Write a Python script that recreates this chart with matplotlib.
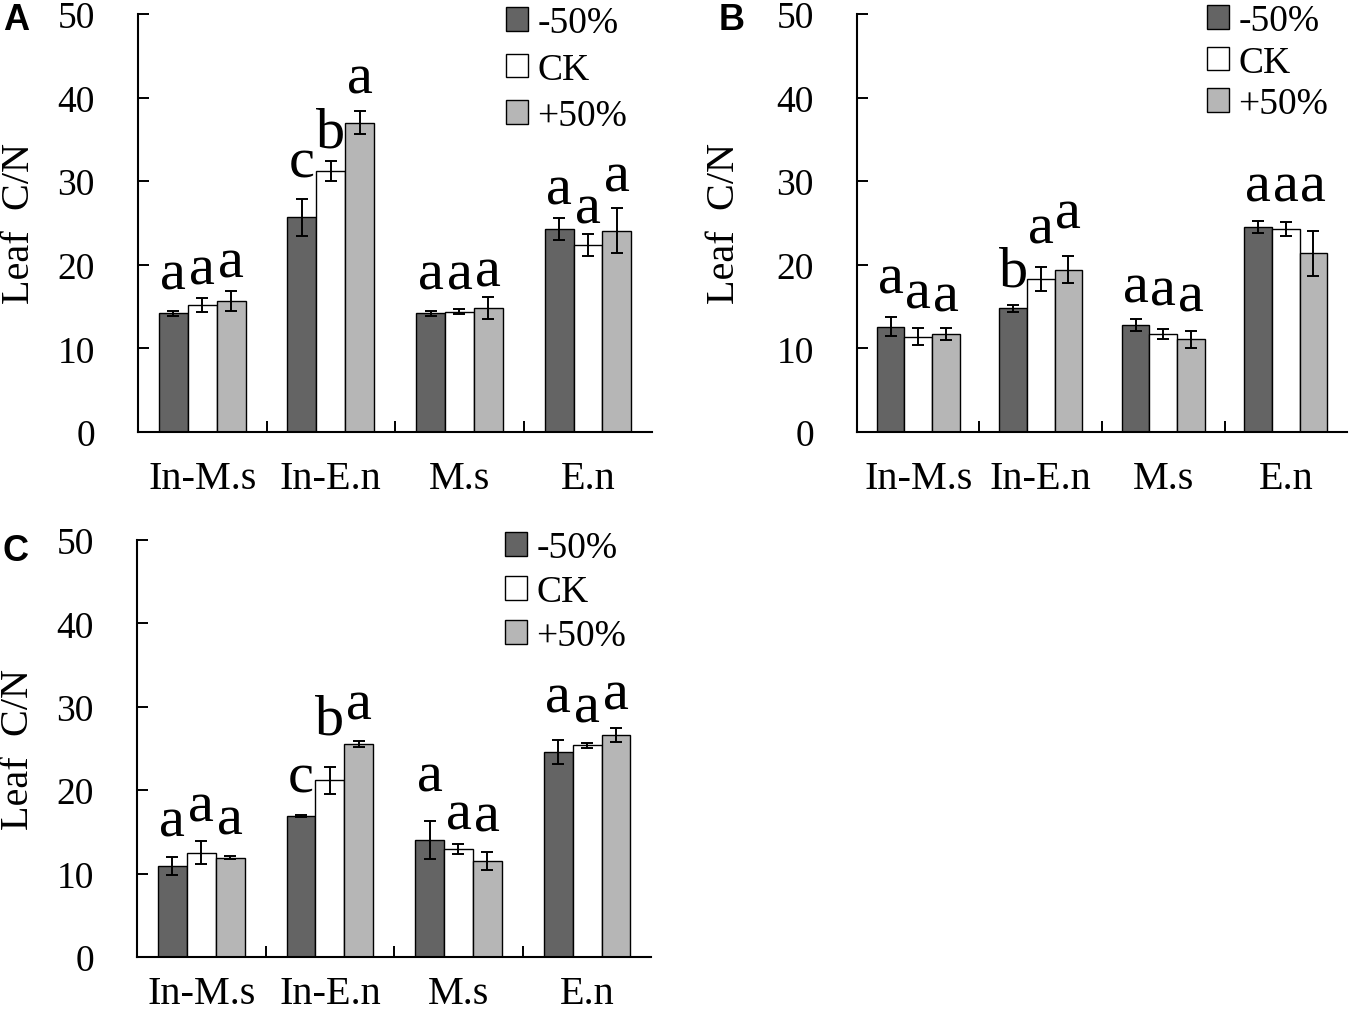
import numpy as np
import matplotlib
matplotlib.use("Agg")
import matplotlib.pyplot as plt

plt.rcParams["font.family"] = ["Liberation Serif", "DejaVu Serif"]

# categories and treatments
groups = ["In-M.s", "In-E.n", "M.s", "E.n"]
treatments = ["-50%", "CK", "+50%"]
colors = ["#646464", "#ffffff", "#b6b6b6"]

# panel A: means and error (SE)
a_low = [14.2, 25.7, 14.2, 24.3]
a_ck = [15.2, 31.2, 14.4, 22.4]
a_high = [15.7, 37.0, 14.8, 24.1]
a_low_err = [0.3, 2.2, 0.3, 1.3]
a_ck_err = [0.8, 1.2, 0.3, 1.3]
a_high_err = [1.2, 1.4, 1.3, 2.7]
a_letters = [["a", "c", "a", "a"], ["a", "b", "a", "a"], ["a", "a", "a", "a"]]
a_letter_y = [[17.2, 30.6, 17.2, 27.3], [17.8, 34.1, 17.2, 25.1], [18.6, 40.6, 17.5, 28.9]]

# panel B
b_low = [12.6, 14.8, 12.8, 24.5]
b_ck = [11.4, 18.3, 11.7, 24.3]
b_high = [11.7, 19.4, 11.1, 21.4]
b_low_err = [1.1, 0.4, 0.7, 0.7]
b_ck_err = [1.0, 1.4, 0.6, 0.8]
b_high_err = [0.7, 1.6, 1.0, 2.7]
b_letters = [["a", "b", "a", "a"], ["a", "a", "a", "a"], ["a", "a", "a", "a"]]
b_letter_y = [[16.7, 17.5, 15.6, 27.7], [14.9, 22.7, 15.3, 27.7], [14.5, 24.5, 14.5, 27.7]]

# panel C
c_low = [10.9, 16.9, 14.0, 24.6]
c_ck = [12.5, 21.2, 12.9, 25.4]
c_high = [11.9, 25.5, 11.5, 26.6]
c_low_err = [1.1, 0.1, 2.3, 1.4]
c_ck_err = [1.4, 1.6, 0.6, 0.3]
c_high_err = [0.2, 0.35, 1.1, 0.8]
c_letters = [["a", "c", "a", "a"], ["a", "b", "a", "a"], ["a", "a", "a", "a"]]
c_letter_y = [[14.6, 19.8, 20.0, 29.4], [16.4, 26.8, 15.4, 28.2], [14.8, 28.6, 15.2, 29.8]]

bar_w = 0.225


def draw_panel(ax, means, errs, letters, letter_y, legend_pos, label_x,
               legend_gap=0.3, xpad=20):
    x = np.arange(len(groups)) + 0.5
    for i in range(3):
        pos = x + (i - 1) * bar_w
        ax.bar(pos, means[i], bar_w, yerr=errs[i], color=colors[i],
               edgecolor="black", linewidth=1.0, label=treatments[i],
               error_kw=dict(ecolor="black", elinewidth=1.4, capsize=4.5, capthick=1.4))
        for px, t, ty in zip(pos, letters[i], letter_y[i]):
            ax.text(px, ty, t, ha="center", va="baseline", fontsize=42)

    ax.set_xlim(0, 4)
    ax.set_ylim(0, 50)
    ax.set_yticks(range(0, 51, 10))
    ax.set_xticks(x)
    ax.set_xticklabels(groups)
    ax.set_xticks([1, 2, 3], minor=True)
    ax.tick_params(axis="x", which="major", length=0, pad=xpad, labelsize=29)
    ax.tick_params(axis="x", which="minor", direction="in", length=8, width=1.4)
    ax.tick_params(axis="y", direction="in", length=8, width=1.4, pad=31, labelsize=27)
    for s in ["top", "right"]:
        ax.spines[s].set_visible(False)
    for s in ["left", "bottom"]:
        ax.spines[s].set_linewidth(1.5)

    ax.set_ylabel("Leaf  C/N", fontsize=29)
    ax.yaxis.set_label_coords(label_x, 0.5)

    ax.legend(loc="upper left", bbox_to_anchor=legend_pos, frameon=False, fontsize=27,
              handlelength=0.58, handleheight=0.6, handletextpad=0.25,
              labelspacing=legend_gap, borderpad=0, borderaxespad=0)


fig = plt.figure(figsize=(13.5, 10.2), dpi=100)
ax_a = fig.add_axes([0.1022, 0.5755, 0.381, 0.4098])
ax_b = fig.add_axes([0.6348, 0.5755, 0.363, 0.4098])
ax_c = fig.add_axes([0.1015, 0.0608, 0.381, 0.4088])

draw_panel(ax_a, [a_low, a_ck, a_high], [a_low_err, a_ck_err, a_high_err],
           a_letters, a_letter_y, (0.716, 1.02), -0.194, legend_gap=0.32)
draw_panel(ax_b, [b_low, b_ck, b_high], [b_low_err, b_ck_err, b_high_err],
           b_letters, b_letter_y, (0.715, 1.024), -0.232, legend_gap=0.18)
draw_panel(ax_c, [c_low, c_ck, c_high], [c_low_err, c_ck_err, c_high_err],
           c_letters, c_letter_y, (0.716, 1.022), -0.194, legend_gap=0.25, xpad=13)

panel_font = dict(fontsize=26, fontweight="bold", family="Liberation Sans", va="top")
fig.text(0.002, 0.997, "A", **panel_font)
fig.text(0.532, 0.997, "B", **panel_font)
fig.text(0.002, 0.476, "C", **panel_font)

fig.savefig("out.png", dpi=100)
